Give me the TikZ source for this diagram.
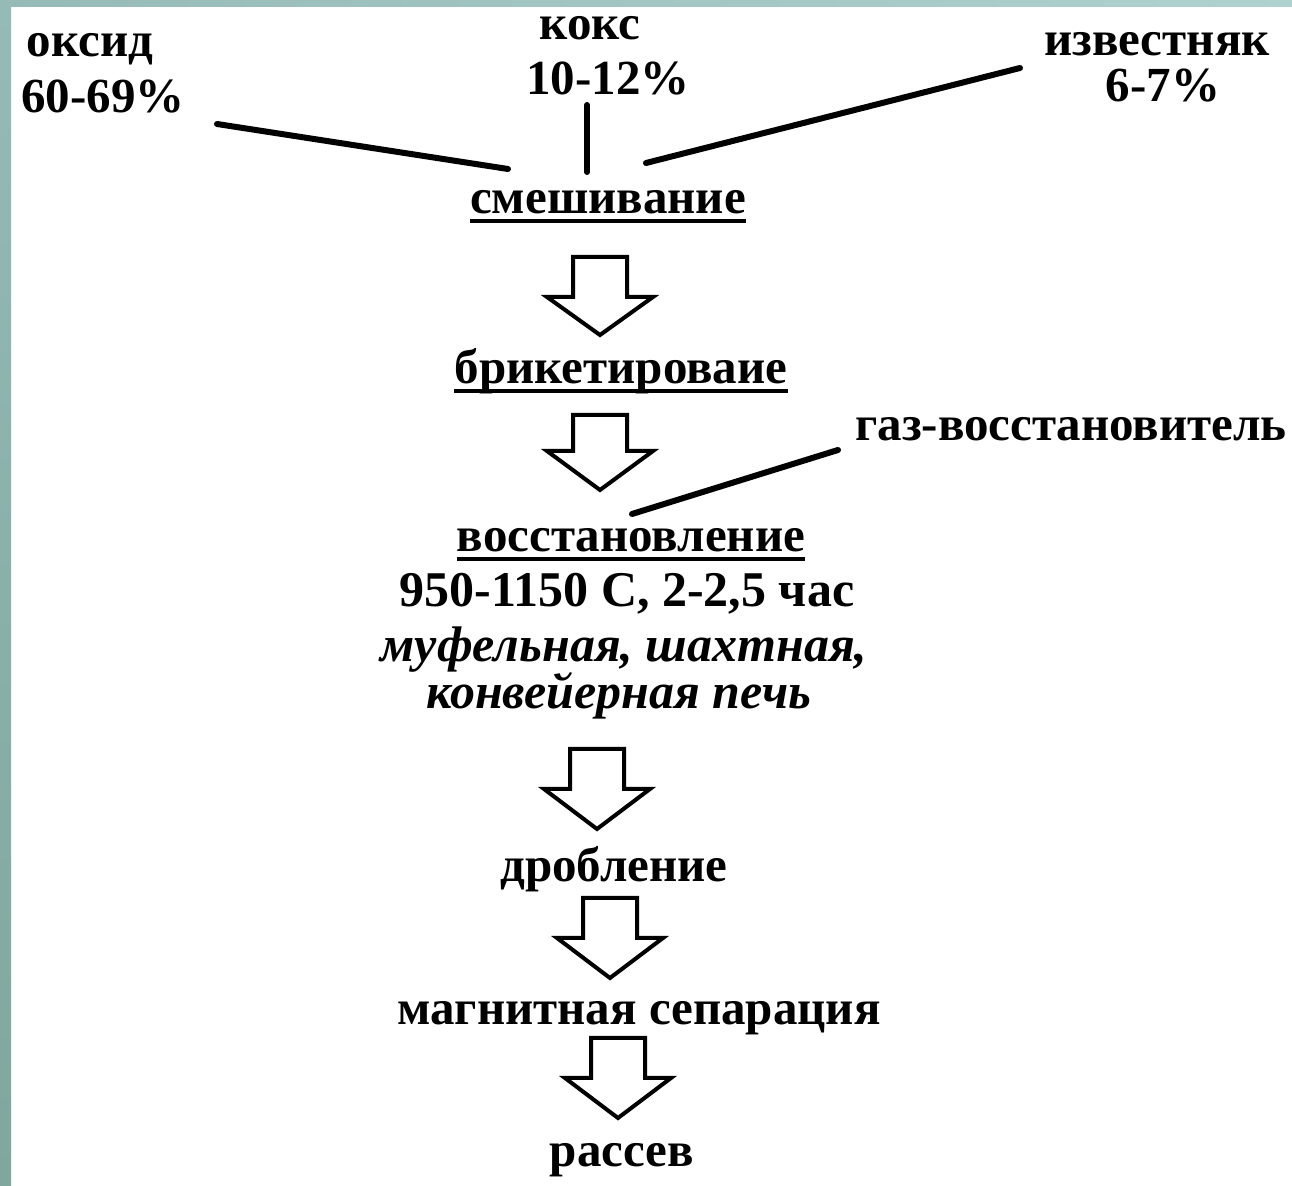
\documentclass[tikz,border=0pt]{standalone}
\usepackage{fontspec}
\setmainfont{Liberation Serif}
\usetikzlibrary{calc}
\definecolor{stripA}{RGB}{150,186,182}
\definecolor{stripB}{RGB}{128,166,158}
\definecolor{stripC}{RGB}{176,210,206}
\tikzset{
  lbl/.style={anchor=base,inner sep=0pt,font=\fontsize{24.5}{28}\selectfont\bfseries},
  lbli/.style={lbl,font=\fontsize{25}{28}\selectfont\bfseries\itshape},
  feed/.style={line width=3pt,line cap=round},
  uline/.style={line width=1.6pt},
  pics/barrow/.style n args={3}{code={
    \draw[line width=2pt,line join=miter,fill=white]
      (-27,0) -- (27,0) -- (27,#1) -- (53,#1) -- (0,#2) -- (-53,#1) -- (-27,#1) -- cycle;
  }}
}
\begin{document}
\begin{tikzpicture}[x=0.5pt,y=-0.5pt]
\fill[white] (0,0) rectangle (1292,1186);
\useasboundingbox (0,0) rectangle (1292,1186);
\shade[top color=stripA,bottom color=stripB] (0,0) rectangle (11,1186);
\shade[left color=stripA,right color=stripC] (0,0) rectangle (1292,7);

% labels
\node[lbl] (oks) at (90,57) {оксид};
\node[lbl] (okspct) at (103,113) {60-69\%};
\node[lbl] (koks) at (590,40) {кокс};
\node[lbl] (kokspct) at (608,95) {10-12\%};
\node[lbl] (izv) at (1157,56) {известняк};
\node[lbl] (izvpct) at (1163,102) {6-7\%};
\node[lbl] (smesh) at (608,214) {смешивание};
\node[lbl] (brik) at (621,384) {брикетироваие};
\node[lbl] (gaz) at (1071,441) {газ-восстановитель};
\node[lbl] (vosst) at (631,552) {восстановление};
\node[lbl,font=\fontsize{25}{28}\selectfont\bfseries] (temp) at (627,607) {950-1150 С, 2-2,5 час};
\node[lbli] (pech1) at (624,662) {муфельная, шахтная,};
\node[lbli] (pech2) at (619,709) {конвейерная печь};
\node[lbl] (drob) at (614,882) {дробление};
\node[lbl] (magn) at (639,1025) {магнитная сепарация};
\node[lbl] (rass) at (622,1167) {рассев};

% underlines
\foreach \n in {smesh,brik,vosst}{
  \draw[uline] ($(\n.base west)+(0,7)$) -- ($(\n.base east)+(0,7)$);
}

% feed lines
\coordinate (oksA) at (217,124);
\coordinate (oksB) at (508,169);
\coordinate (koksA) at (587,105);
\coordinate (koksB) at (587,172);
\coordinate (izvA) at (1020,68);
\coordinate (izvB) at (646,163);
\coordinate (gazA) at (838,450);
\coordinate (gazB) at (632,514);
\draw[feed] (oksA) -- (oksB);
\draw[feed] (koksA) -- (koksB);
\draw[feed] (izvA) -- (izvB);
\draw[feed] (gazA) -- (gazB);

% block arrows
\pic at (600,257) {barrow={40}{78}{}};
\pic at (600,415) {barrow={36}{75}{}};
\pic at (597,749) {barrow={40}{80}{}};
\pic at (610,898) {barrow={40}{80}{}};
\pic at (618,1038) {barrow={40}{80}{}};
\end{tikzpicture}
\end{document}
